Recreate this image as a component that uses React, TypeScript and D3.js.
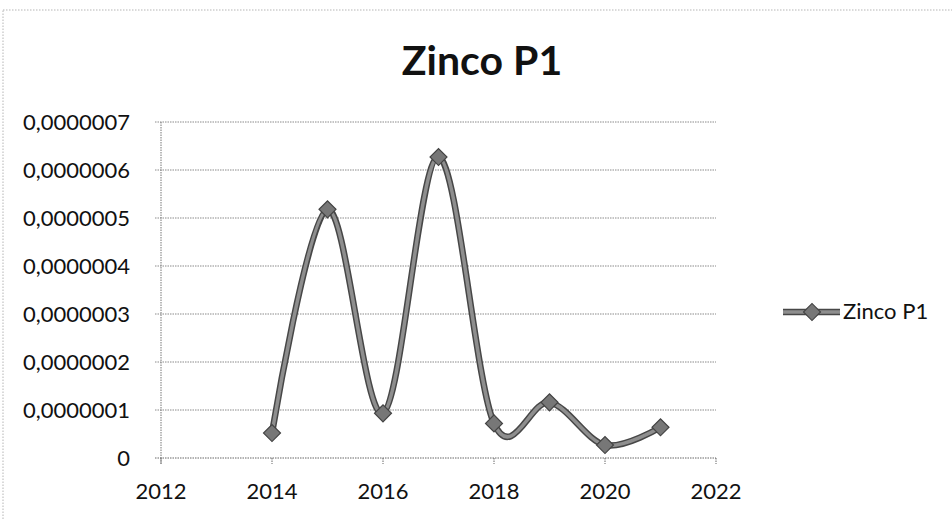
import React from "react";
import * as d3 from "d3";

const years = [2014, 2015, 2016, 2017, 2018, 2019, 2020, 2021];
const values = [
  0.000000052, 0.000000518, 0.000000093, 0.000000627, 0.000000072, 0.000000116,
  0.000000027, 0.000000064,
];
const xTicks = [2012, 2014, 2016, 2018, 2020, 2022];
const yTicks = [0, 0.0000001, 0.0000002, 0.0000003, 0.0000004, 0.0000005, 0.0000006, 0.0000007];
const title = "Zinco P1";
const seriesName = "Zinco P1";

const W = 952;
const H = 520;
const plot = { left: 161, right: 716, top: 122, bottom: 458 };

const locale = d3.formatLocale({ decimal: ",", thousands: ".", grouping: [3], currency: ["", ""] });
const fmt = locale.format(".7f");
const yFmt = (v: number) => (v === 0 ? "0" : fmt(v));

export default function App() {
  const x = d3.scaleLinear().domain([2012, 2022]).range([plot.left, plot.right]);
  const y = d3.scaleLinear().domain([0, 0.0000007]).range([plot.bottom, plot.top]);
  const pts: [number, number][] = years.map((yr, i) => [x(yr), y(values[i])]);
  const line = d3.line().curve(d3.curveCatmullRom.alpha(0))(pts) || "";
  const diamond = d3.symbol().type(d3.symbolSquare).size(144)() || "";
  const font = "Lato, 'Open Sans', sans-serif";
  const grid = "#8a8a8a";

  return (
    <svg
      width={W}
      height={H}
      style={{ position: "absolute", left: 0, top: 0, display: "block", background: "#fff" }}
    >
      <rect x={3} y={10} width={1000} height={600} fill="none" stroke="#b5b5b5" strokeDasharray="1.5,1.5" />
      <text x={482} y={75} textAnchor="middle" fontFamily={font} fontWeight={700} fontSize={41} fill="#111">
        {title}
      </text>
      {yTicks.map((t) => (
        <g key={"y" + t}>
          <line
            x1={plot.left - 6}
            x2={plot.right}
            y1={y(t)}
            y2={y(t)}
            stroke={t === 0 ? "#666" : grid}
            strokeWidth={1}
            strokeDasharray="1.5,1"
          />
          <text x={130} y={y(t) + 8} textAnchor="end" fontFamily={font} fontSize={22} fill="#111">
            {yFmt(t)}
          </text>
        </g>
      ))}
      <line x1={plot.left} x2={plot.left} y1={plot.top} y2={plot.bottom + 6} stroke="#777" strokeDasharray="1.5,1" />
      {xTicks.map((t) => (
        <g key={"x" + t}>
          <line x1={x(t)} x2={x(t)} y1={plot.bottom} y2={plot.bottom + 6} stroke="#666" strokeDasharray="1.5,1" />
          <text x={x(t)} y={499} textAnchor="middle" fontFamily={font} fontSize={22} fill="#111">
            {t}
          </text>
        </g>
      ))}
      <path d={line} fill="none" stroke="#474747" strokeWidth={6.5} strokeLinejoin="round" strokeLinecap="round" />
      <path d={line} fill="none" stroke="#8e8e8e" strokeWidth={3.5} strokeLinejoin="round" strokeLinecap="round" />
      {pts.map(([px, py], i) => (
        <path
          key={"m" + i}
          d={diamond}
          transform={`translate(${px},${py}) rotate(45)`}
          fill="#777"
          stroke="#444"
          strokeWidth={1.2}
        />
      ))}
      <g>
        <line x1={783} x2={840} y1={312} y2={312} stroke="#474747" strokeWidth={6.5} />
        <line x1={783} x2={840} y1={312} y2={312} stroke="#8e8e8e" strokeWidth={3.5} />
        <path d={diamond} transform="translate(812,312) rotate(45)" fill="#777" stroke="#444" strokeWidth={1.2} />
        <text x={843} y={319} fontFamily={font} fontSize={22} fill="#111">
          {seriesName}
        </text>
      </g>
    </svg>
  );
}
